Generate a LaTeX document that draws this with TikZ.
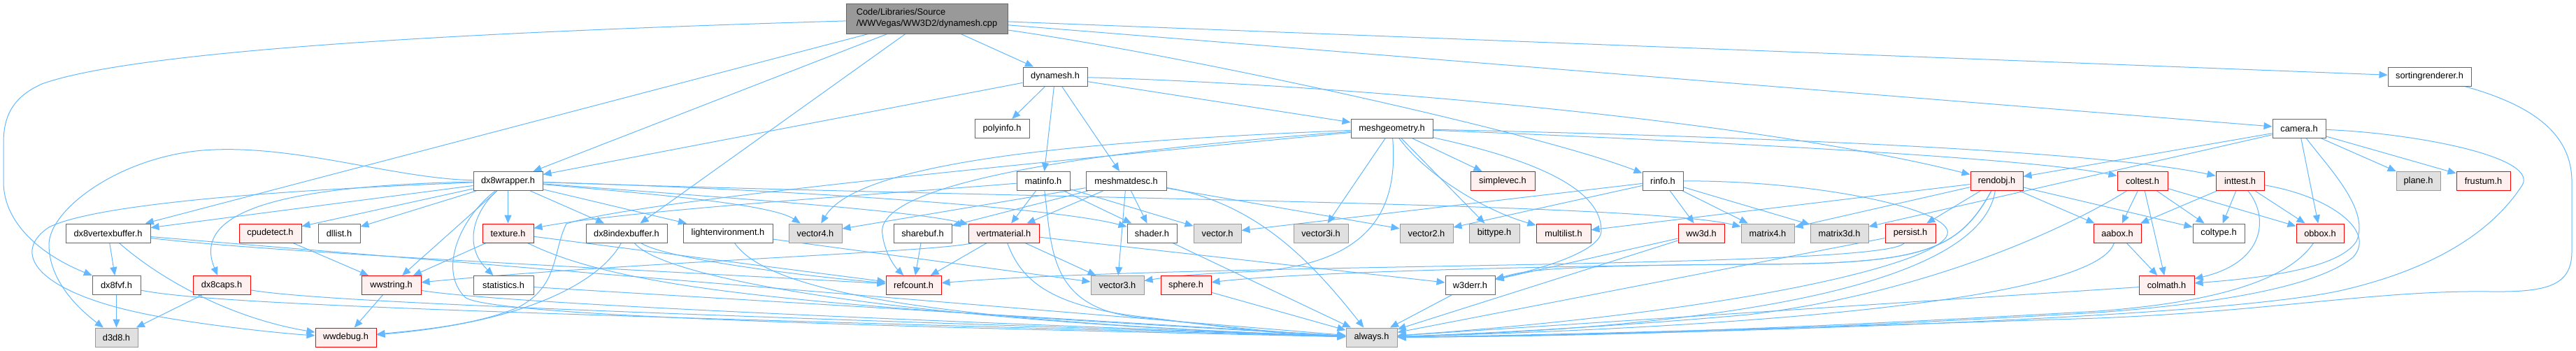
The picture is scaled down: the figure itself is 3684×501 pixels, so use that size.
\documentclass[tikz,border=0pt]{standalone}
\usepackage{fontspec}
\setmainfont{Liberation Sans}
\usetikzlibrary{arrows.meta}
\definecolor{edgec}{HTML}{63B8FF}
\definecolor{wborder}{HTML}{666666}
\definecolor{gfill}{HTML}{E0E0E0}
\definecolor{gborder}{HTML}{999999}
\definecolor{rfill}{HTML}{FFF0F0}
\definecolor{rborder}{HTML}{FF0000}
\definecolor{rootfill}{HTML}{999999}
\newcommand\nodefont{\fontsize{12.8}{16}\selectfont}
\pgfdeclarelayer{bg}
\pgfsetlayers{bg,main}
\tikzset{
 box/.style={draw, line width=1pt, minimum height=27pt, inner sep=0pt, font=\nodefont, text=black},
 wn/.style={box, fill=white, draw=wborder},
 gn/.style={box, fill=gfill, draw=gborder},
 rn/.style={box, fill=rfill, draw=rborder},
 rootn/.style={box, fill=rootfill, draw=wborder},
 lnk/.style={draw=edgec, line width=1pt, -{Triangle[length=12pt,width=10pt]}},
}
\begin{document}
\begin{tikzpicture}[x=1pt,y=-1pt]
\useasboundingbox (0,0) rectangle (3684,501);
% nodes
\node[rootn, minimum width=231pt, minimum height=43pt, align=left] (root) at (1325.5,26.5) {Code/Libraries/Source\\/WWVegas/WW3D2/dynamesh.cpp};
\node[wn, minimum width=92pt] (dynamesh) at (1509,109.5) {dynamesh.h};
\node[wn, minimum width=119pt] (sortr) at (3474.5,109.5) {sortingrenderer.h};
\node[wn, minimum width=78pt] (polyinfo) at (1433,184) {polyinfo.h};
\node[wn, minimum width=117pt] (meshgeo) at (1990.5,184) {meshgeometry.h};
\node[wn, minimum width=76pt] (camera) at (3288,184) {camera.h};
\node[wn, minimum width=99pt] (dxwrap) at (726.5,259) {dx8wrapper.h};
\node[wn, minimum width=76pt] (matinfo) at (1492,259) {matinfo.h};
\node[wn, minimum width=115pt] (meshmat) at (1610.5,259) {meshmatdesc.h};
\node[rn, minimum width=92pt] (simplevec) at (2149,259) {simplevec.h};
\node[wn, minimum width=58pt] (rinfo) at (2378,259) {rinfo.h};
\node[rn, minimum width=75pt] (rendobj) at (2855.5,259) {rendobj.h};
\node[rn, minimum width=72pt] (coltest) at (3064,259) {coltest.h};
\node[rn, minimum width=69pt] (inttest) at (3203.5,259) {inttest.h};
\node[gn, minimum width=63pt] (plane) at (3458.5,259) {plane.h};
\node[rn, minimum width=77pt] (frustum) at (3551.5,259) {frustum.h};
\node[wn, minimum width=121pt] (dxvb) at (154.5,333.5) {dx8vertexbuffer.h};
\node[rn, minimum width=89pt] (cpudetect) at (386.5,333.5) {cpudetect.h};
\node[wn, minimum width=60pt] (dllist) at (485,333.5) {dllist.h};
\node[rn, minimum width=73pt] (texture) at (726.5,333.5) {texture.h};
\node[wn, minimum width=116pt] (dxib) at (896,333.5) {dx8indexbuffer.h};
\node[wn, minimum width=128pt] (lightenv) at (1041,333.5) {lightenvironment.h};
\node[gn, minimum width=76pt] (vecfour) at (1166,333.5) {vector4.h};
\node[wn, minimum width=83pt] (sharebuf) at (1319.5,333.5) {sharebuf.h};
\node[rn, minimum width=101pt] (vertmat) at (1435.5,333.5) {vertmaterial.h};
\node[wn, minimum width=71pt] (shader) at (1647.5,333.5) {shader.h};
\node[gn, minimum width=68pt] (vector) at (1741,333.5) {vector.h};
\node[gn, minimum width=78pt] (vecthreei) at (1889,333.5) {vector3i.h};
\node[gn, minimum width=76pt] (vectwo) at (2040,333.5) {vector2.h};
\node[gn, minimum width=72pt] (bittype) at (2137,333.5) {bittype.h};
\node[rn, minimum width=78pt] (multilist) at (2236,333.5) {multilist.h};
\node[rn, minimum width=66pt] (wwthreed) at (2433,333.5) {ww3d.h};
\node[gn, minimum width=76pt] (matfour) at (2528,333.5) {matrix4.h};
\node[gn, minimum width=83pt] (matthreed) at (2630.5,333.5) {matrix3d.h};
\node[rn, minimum width=72pt] (persist) at (2732,333.5) {persist.h};
\node[rn, minimum width=68pt] (aabox) at (3028,333.5) {aabox.h};
\node[wn, minimum width=74pt] (coltype) at (3173,333.5) {coltype.h};
\node[rn, minimum width=68pt] (obbox) at (3318,333.5) {obbox.h};
\node[wn, minimum width=69pt] (dxfvf) at (166.5,408) {dx8fvf.h};
\node[rn, minimum width=82pt] (dxcaps) at (317,408) {dx8caps.h};
\node[rn, minimum width=85pt] (wwstring) at (559.5,408) {wwstring.h};
\node[wn, minimum width=86pt] (statistics) at (720,408) {statistics.h};
\node[rn, minimum width=79pt] (refcount) at (1306.5,408) {refcount.h};
\node[gn, minimum width=76pt] (vecthree) at (1598,408) {vector3.h};
\node[rn, minimum width=72pt] (sphere) at (1696,408) {sphere.h};
\node[wn, minimum width=71pt] (werr) at (2102.5,408) {w3derr.h};
\node[rn, minimum width=79pt] (colmath) at (3098.5,408) {colmath.h};
\node[gn, minimum width=61pt] (dthree) at (166.5,482.5) {d3d8.h};
\node[rn, minimum width=87pt] (wwdebug) at (494.5,482.5) {wwdebug.h};
\node[gn, minimum width=73pt] (always) at (1961.5,482.5) {always.h};
\begin{pgfonlayer}{bg}
% root
\draw[lnk] (root) -- (dynamesh);
\draw[lnk] (root) .. controls (700,45) and (200,70) .. (60,120) .. controls (15,140) and (5,170) .. (5,205) -- (5,260) .. controls (5,320) and (60,365) .. (dxfvf);
\draw[lnk] (root) -- (dxvb);
\draw[lnk] (root) -- (dxwrap);
\draw[lnk] (root) -- (dxib);
\draw[lnk] (root) .. controls (1700,80) and (2200,190) .. (rinfo);
\draw[lnk] (root) -- (sortr);
\draw[lnk] (root) -- (camera);
\draw[lnk] (sortr) .. controls (3620,150) and (3678,190) .. (3678,260) -- (3678,360) .. controls (3678,410) and (3640,418) .. (3560,417) .. controls (3400,415) and (3250,445) .. (3000,455) .. controls (2600,468) and (2200,480) .. (always);
% dynamesh
\draw[lnk] (dynamesh) -- (polyinfo);
\draw[lnk] (dynamesh) -- (matinfo);
\draw[lnk] (dynamesh) -- (meshmat);
\draw[lnk] (dynamesh) -- (meshgeo);
\draw[lnk] (dynamesh) -- (dxwrap);
\draw[lnk] (dynamesh) .. controls (1900,120) and (2500,170) .. (rendobj);
% meshgeometry
\draw[lnk] (meshgeo) -- (vecthreei);
\draw[lnk] (meshgeo) -- (bittype);
\draw[lnk] (meshgeo) .. controls (2040,250) and (2120,300) .. (multilist);
\draw[lnk] (meshgeo) -- (simplevec);
\draw[lnk] (meshgeo) .. controls (2400,200) and (2900,225) .. (coltest);
\draw[lnk] (meshgeo) .. controls (2500,195) and (3000,215) .. (inttest);
\draw[lnk] (meshgeo) .. controls (2000,300) and (1960,375) .. (1800,388) .. controls (1700,392) and (1670,396) .. (vecthree);
\draw[lnk] (meshgeo) .. controls (2250,240) and (2290,290) .. (2290,330) .. controls (2290,360) and (2200,385) .. (werr);
\draw[lnk] (meshgeo) .. controls (1500,220) and (1250,270) .. (1262,335) .. controls (1265,362) and (1280,382) .. (refcount);
\draw[lnk] (meshgeo) .. controls (1600,200) and (1230,225) .. (vecfour);
\draw[lnk] (meshgeo) .. controls (1400,240) and (900,290) .. (810,320) .. controls (790,360) and (800,410) .. (740,440) .. controls (680,465) and (600,472) .. (wwdebug);
% camera
\draw[lnk] (camera) -- (rendobj);
\draw[lnk] (camera) -- (plane);
\draw[lnk] (camera) -- (frustum);
\draw[lnk] (camera) -- (obbox);
\draw[lnk] (camera) -- (matthreed);
\draw[lnk] (camera) .. controls (3450,190) and (3640,225) .. (3605,268) .. controls (3570,320) and (3500,380) .. (3350,415) .. controls (3150,460) and (2300,480) .. (always);
\draw[lnk] (camera) .. controls (3330,240) and (3390,300) .. (3370,345) .. controls (3345,385) and (3230,398) .. (colmath);
% rinfo
\draw[lnk] (rinfo) -- (wwthreed);
\draw[lnk] (rinfo) -- (matfour);
\draw[lnk] (rinfo) -- (matthreed);
\draw[lnk] (rinfo) -- (vectwo);
\draw[lnk] (rinfo) -- (vector);
\draw[lnk] (rinfo) .. controls (2600,258) and (2795,300) .. (2785,335) .. controls (2775,375) and (2500,445) .. (always);
% rendobj
\draw[lnk] (rendobj) -- (persist);
\draw[lnk] (rendobj) -- (aabox);
\draw[lnk] (rendobj) -- (coltype);
\draw[lnk] (rendobj) -- (multilist);
\draw[lnk] (rendobj) -- (matfour);
\draw[lnk] (rendobj) .. controls (2800,360) and (2750,378) .. (2500,378) .. controls (2200,380) and (2180,388) .. (werr);
\draw[lnk] (rendobj) .. controls (2800,360) and (2750,378) .. (2500,378) .. controls (2200,380) and (1850,390) .. (sphere);
\draw[lnk] (rendobj) .. controls (2830,420) and (2400,470) .. (always);
% coltest
\draw[lnk] (coltest) -- (aabox);
\draw[lnk] (coltest) -- (coltype);
\draw[lnk] (coltest) -- (colmath);
\draw[lnk] (coltest) -- (obbox);
\draw[lnk] (coltest) .. controls (2950,330) and (2750,420) .. (2500,450) .. controls (2300,468) and (2100,478) .. (always);
% inttest
\draw[lnk] (inttest) -- (aabox);
\draw[lnk] (inttest) -- (coltype);
\draw[lnk] (inttest) -- (obbox);
\draw[lnk] (inttest) .. controls (3245,310) and (3240,375) .. (colmath);
\draw[lnk] (inttest) .. controls (3330,280) and (3400,330) .. (3365,368) .. controls (3320,405) and (3200,432) .. (3000,447) .. controls (2600,470) and (2300,481) .. (always);
% aabox, obbox, colmath
\draw[lnk] (aabox) -- (colmath);
\draw[lnk] (aabox) .. controls (3000,420) and (2600,465) .. (always);
\draw[lnk] (obbox) .. controls (3280,390) and (3200,430) .. (3000,445) .. controls (2600,468) and (2300,480) .. (always);
\draw[lnk] (colmath) -- (always);
% dx8wrapper
\draw[lnk] (dxwrap) -- (dxvb);
\draw[lnk] (dxwrap) -- (cpudetect);
\draw[lnk] (dxwrap) -- (dllist);
\draw[lnk] (dxwrap) -- (texture);
\draw[lnk] (dxwrap) -- (dxib);
\draw[lnk] (dxwrap) -- (lightenv);
\draw[lnk] (dxwrap) .. controls (900,275) and (1100,290) .. (vecfour);
\draw[lnk] (dxwrap) .. controls (1000,280) and (1300,300) .. (vertmat);
\draw[lnk] (dxwrap) .. controls (1100,270) and (1500,295) .. (shader);
\draw[lnk] (dxwrap) .. controls (1500,285) and (2350,290) .. (matfour);
\draw[lnk] (dxwrap) .. controls (680,300) and (660,350) .. (statistics);
\draw[lnk] (dxwrap) .. controls (660,310) and (625,385) .. (665,425) .. controls (700,455) and (1400,470) .. (always);
\draw[lnk] (dxwrap) -- (wwstring);
\draw[lnk] (dxwrap) .. controls (560,255) and (420,205) .. (290,215) .. controls (170,225) and (70,300) .. (70,350) .. controls (70,400) and (110,440) .. (dthree);
\draw[lnk] (dxwrap) .. controls (500,268) and (150,285) .. (70,325) .. controls (10,365) and (60,425) .. (240,455) .. controls (330,470) and (420,478) .. (wwdebug);
\draw[lnk] (dxwrap) .. controls (430,265) and (270,295) .. (dxcaps);
% matinfo
\draw[lnk] (matinfo) -- (vertmat);
\draw[lnk] (matinfo) .. controls (1300,275) and (900,300) .. (texture);
\draw[lnk] (matinfo) -- (shader);
\draw[lnk] (matinfo) -- (vector);
\draw[lnk] (matinfo) .. controls (1505,360) and (1500,445) .. (1640,455) .. controls (1750,467) and (1850,478) .. (always);
% meshmatdesc
\draw[lnk] (meshmat) -- (vertmat);
\draw[lnk] (meshmat) -- (shader);
\draw[lnk] (meshmat) -- (vecthree);
\draw[lnk] (meshmat) -- (sharebuf);
\draw[lnk] (meshmat) -- (vectwo);
\draw[lnk] (meshmat) -- (vecfour);
\draw[lnk] (meshmat) .. controls (1800,290) and (1880,380) .. (always);
% vertmaterial
\draw[lnk] (vertmat) -- (refcount);
\draw[lnk] (vertmat) -- (vecthree);
\draw[lnk] (vertmat) -- (werr);
\draw[lnk] (vertmat) .. controls (1350,360) and (900,375) .. (wwstring);
\draw[lnk] (vertmat) .. controls (1460,400) and (1500,440) .. (1650,455) .. controls (1750,468) and (1850,480) .. (always);
% texture
\draw[lnk] (texture) -- (wwstring);
\draw[lnk] (texture) -- (refcount);
\draw[lnk] (texture) .. controls (900,420) and (1200,440) .. (always);
% dx8indexbuffer
\draw[lnk] (dxib) .. controls (860,400) and (760,460) .. (wwdebug);
\draw[lnk] (dxib) .. controls (950,370) and (1150,395) .. (refcount);
\draw[lnk] (dxib) .. controls (950,400) and (1300,460) .. (always);
% lightenvironment
\draw[lnk] (lightenv) -- (vecthree);
\draw[lnk] (lightenv) .. controls (1100,420) and (1350,460) .. (always);
% dx8vertexbuffer
\draw[lnk] (dxvb) -- (dxfvf);
\draw[lnk] (dxvb) .. controls (230,400) and (330,455) .. (wwdebug);
\draw[lnk] (dxvb) .. controls (400,362) and (900,385) .. (refcount);
\draw[lnk] (dxvb) -- (always);
% dx8fvf, dx8caps, cpudetect
\draw[lnk] (dxfvf) -- (dthree);
\draw[lnk] (dxfvf) .. controls (300,435) and (700,448) .. (always);
\draw[lnk] (dxcaps) -- (dthree);
\draw[lnk] (dxcaps) .. controls (450,430) and (800,445) .. (always);
\draw[lnk] (cpudetect) -- (wwstring);
% lower level
\draw[lnk] (wwstring) -- (wwdebug);
\draw[lnk] (wwstring) .. controls (700,432) and (1200,455) .. (always);
\draw[lnk] (statistics) -- (always);
\draw[lnk] (sharebuf) -- (refcount);
\draw[lnk] (shader) -- (always);
\draw[lnk] (sphere) -- (always);
\draw[lnk] (werr) -- (always);
\draw[lnk] (wwthreed) -- (werr);
\draw[lnk] (wwthreed) -- (always);
\draw[lnk] (persist) -- (always);
\draw[lnk] (persist) .. controls (2700,385) and (1700,375) .. (refcount);
\end{pgfonlayer}
\end{tikzpicture}
\end{document}
